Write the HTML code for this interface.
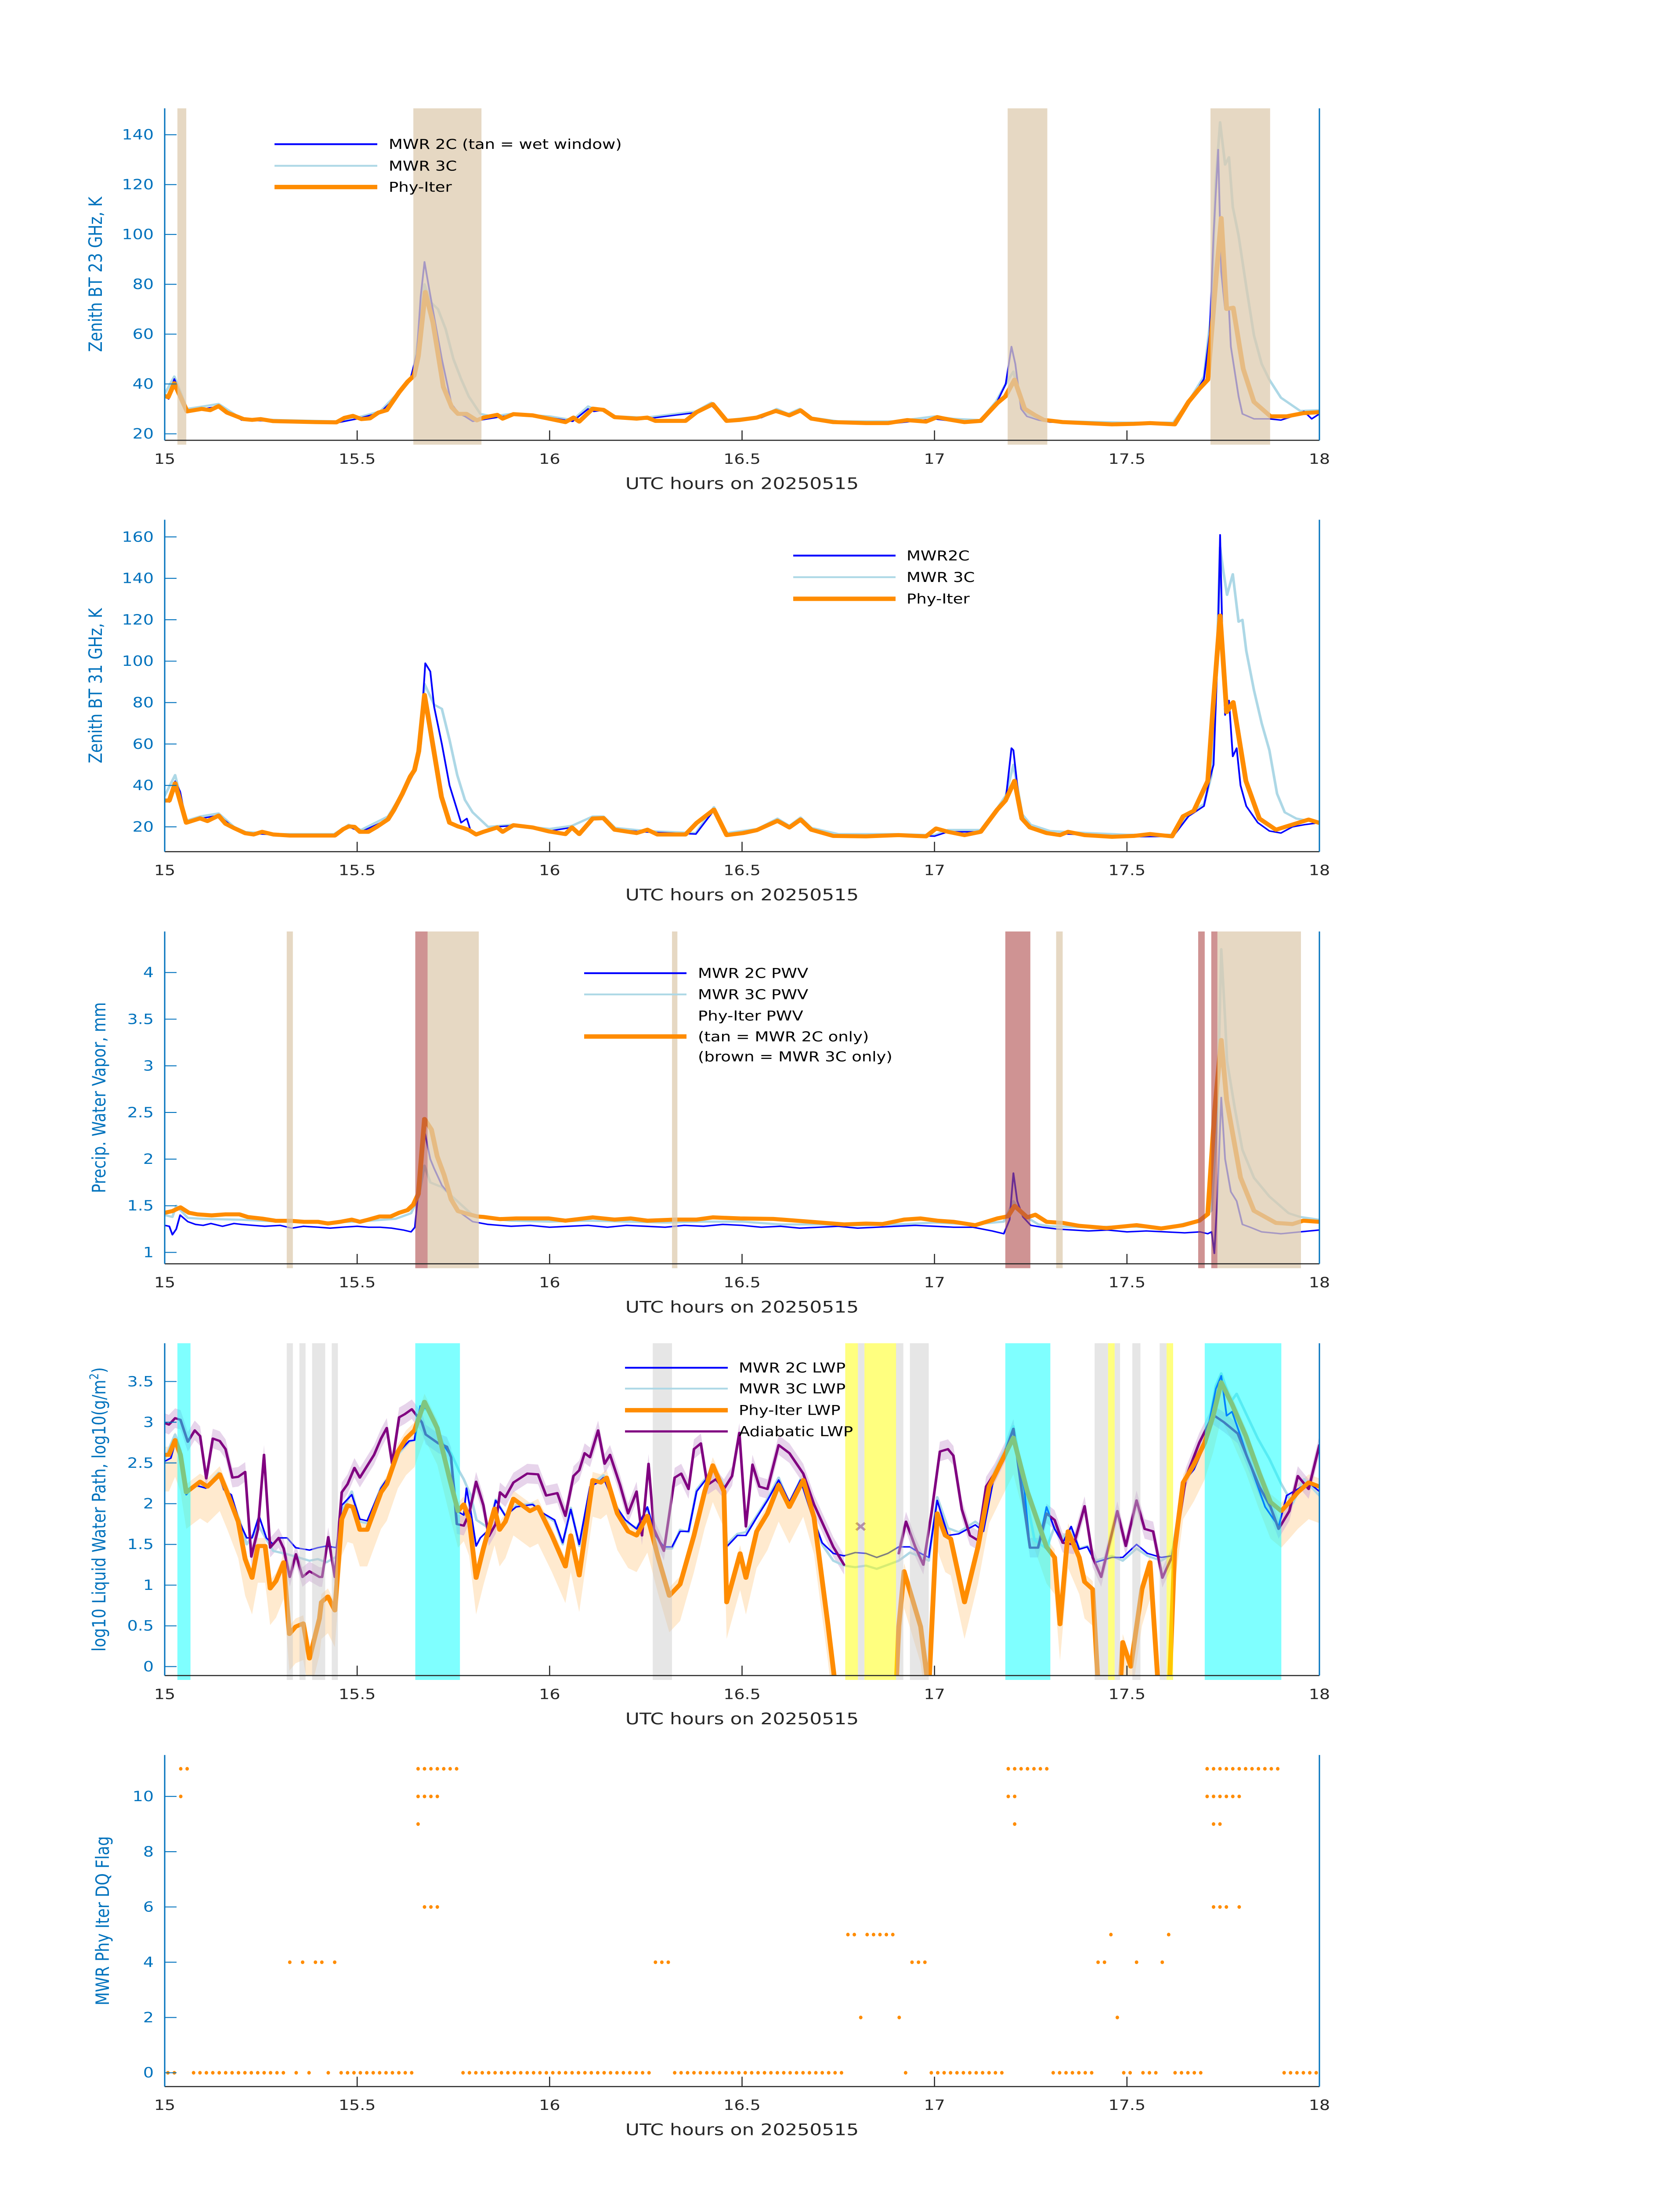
<!DOCTYPE html>
<html>
<head>
<meta charset="utf-8">
<style>
  html, body { margin: 0; padding: 0; background: #ffffff; width: 100%; height: 100%; overflow: hidden; }
  svg { display: block; position: absolute; left: 0; top: 0; width: 100%; height: 100%; }
  text { font-family: "DejaVu Sans", "Liberation Sans", sans-serif; }
</style>
</head>
<body>
<svg id="fig" xmlns="http://www.w3.org/2000/svg" viewBox="0 0 3825 6000" preserveAspectRatio="none">
  <rect x="0" y="0" width="3825" height="6000" fill="#ffffff"/>
</svg>
<script>
// ---------------- DATA ----------------
const bt23OrangeT = [15.000,15.009,15.025,15.058,15.096,15.118,15.140,15.162,15.205,15.227,15.249,15.282,15.336,15.391,15.446,15.467,15.489,15.511,15.533,15.555,15.577,15.609,15.631,15.648,15.659,15.677,15.697,15.724,15.746,15.762,15.784,15.811,
15.828,15.864,15.878,15.906,15.956,15.998,16.041,16.062,16.077,16.112,16.140,16.169,16.226,16.254,16.275,16.353,16.382,16.424,16.460,16.495,16.538,16.588,16.623,16.652,16.680,16.737,16.822,16.879,16.929,16.978,17.007,17.035,17.078,17.120,17.163,17.184,17.208,17.234,17.262,17.284,17.333,17.390,17.461,17.518,17.560,17.624,17.660,17.688,17.710,17.731,17.745,17.759,17.776,17.802,17.830,17.873,17.915,17.958,18.000];
const bt23OrangeV = [35.2,34.7,40.3,29.0,30.0,29.5,31.1,28.5,25.9,25.6,25.9,25.1,24.9,24.7,24.6,26.4,27.2,25.9,26.2,28.5,29.5,36.7,40.9,43.4,51.2,76.9,64.6,38.8,30.6,28.0,28.0,25.4,
26.5,27.6,26.1,27.9,27.4,26.1,24.7,26.5,24.9,30.1,29.6,26.7,26.1,26.5,25.2,25.2,28.7,31.9,25.2,25.6,26.5,29.2,27.4,29.4,26.1,24.7,24.3,24.3,25.5,24.9,26.7,25.8,24.7,25.2,32.3,35.0,41.7,30.1,27.4,25.6,24.7,24.3,23.8,24.0,24.3,23.8,32.8,38.1,41.7,81.7,106.6,70.1,70.6,46.1,32.8,27.0,27.0,28.3,28.7];
const bt23BlueT = [15.0,15.01,15.025,15.04,15.058,15.1,15.14,15.2,15.3,15.45,15.5,15.56,15.61,15.64,15.655,15.665,15.675,15.685,15.70,15.72,15.745,15.765,15.78,15.80,15.84,15.9,16.0,16.06,16.1,16.115,16.14,16.17,16.25,16.38,16.42,16.46,16.55,16.59,16.62,16.65,16.68,16.75,16.9,17.0,17.05,17.12,17.16,17.185,17.2,17.21,17.225,17.24,17.27,17.3,17.4,17.5,17.62,17.66,17.70,17.715,17.725,17.737,17.745,17.755,17.765,17.77,17.78,17.79,17.80,17.83,17.87,17.9,17.93,17.96,17.98,18.0];
const bt23BlueV = [35,34,42,36,28.5,30,31,25.5,25,24.5,26,28.5,36,43,52,75,89,80,67,50,32,28,27,25,26,27.5,26.5,25,30,29,29.5,26.5,26,28.5,31.5,25,26.5,29,27,29,26,24.3,24.3,26,25,24.8,32,40,55,48,30,27,25.5,24.7,24.3,24,23.8,32,42,60,100,134,85,70,70,55,45,35,28,26,26,25.5,27,29,26,28];
const bt23LightT = [15.0,15.025,15.058,15.1,15.14,15.2,15.3,15.45,15.5,15.56,15.61,15.645,15.66,15.675,15.69,15.71,15.73,15.75,15.77,15.79,15.82,15.85,15.9,16.0,16.06,16.1,16.115,16.14,16.17,16.25,16.38,16.42,16.46,16.55,16.59,16.62,16.65,16.68,16.75,16.9,17.0,17.05,17.12,17.16,17.185,17.205,17.225,17.24,17.27,17.3,17.4,17.5,17.62,17.66,17.70,17.72,17.73,17.742,17.755,17.765,17.775,17.79,17.81,17.83,17.85,17.87,17.9,17.95,18.0];
const bt23LightV = [36,43,30,31,32,26,25.5,25,26.5,29,37,43,60,80,73,70,62,50,42,35,28,27,28,27,25.5,31,30,30,27,26.5,29,32.5,25.5,27,30,28,30,26.5,25,25,27,26,25.5,33,40,45,32,28,26,25.2,24.8,24.5,24.5,33,43,70,120,145,128,131,111,99.5,79,59.5,48,41.7,34.5,29.2,29.5];
const p1TanWindows = [[15.033,15.056],[15.646,15.823],[17.19,17.293],[17.717,17.872]];

const bt31OrangeT = [15.000,15.012,15.027,15.056,15.092,15.111,15.140,15.158,15.180,15.209,15.231,15.253,15.282,15.325,15.384,15.442,15.464,15.478,15.493,15.507,15.529,15.551,15.580,15.595,15.617,15.638,15.649,15.660,15.675,15.689,15.719,15.740,15.762,15.777,15.791,15.809,
15.828,15.864,15.878,15.906,15.956,15.998,16.041,16.058,16.077,16.112,16.140,16.169,16.226,16.254,16.280,16.353,16.382,16.427,16.460,16.503,16.538,16.592,16.623,16.652,16.680,16.737,16.822,16.907,16.950,16.978,17.004,17.035,17.078,17.120,17.163,17.184,17.208,17.227,17.248,17.291,17.326,17.347,17.390,17.461,17.518,17.560,17.617,17.646,17.674,17.710,17.724,17.742,17.759,17.776,17.809,17.844,17.887,17.944,17.972,18.000];
const bt31OrangeV = [32.7,32.7,41.0,22.0,24.1,22.8,25.4,21.5,19.4,16.9,16.3,17.6,16.3,15.8,15.8,15.8,18.9,20.2,20.0,17.6,17.6,20.0,23.6,28.0,35.8,44.3,47.4,56.5,83.7,68.2,34.5,22.0,20.2,19.4,18.4,16.3,
17.6,19.7,17.6,20.8,19.7,17.8,16.5,19.7,16.5,24.0,24.2,18.6,17.0,18.6,16.3,16.3,21.9,28.3,16.0,17.0,18.4,22.9,19.7,23.5,18.6,15.6,15.4,16.0,15.6,15.4,19.2,17.6,16.0,17.6,28.3,32.6,42.2,24.0,19.7,17.0,16.0,17.6,16.0,15.2,15.6,16.5,15.4,25.1,27.8,42.2,78.6,122.0,75.4,80.2,42.2,24.0,18.6,21.9,23.5,21.9];
const bt31BlueT = [15.0,15.012,15.027,15.04,15.056,15.092,15.14,15.18,15.21,15.3,15.44,15.478,15.51,15.58,15.62,15.65,15.665,15.677,15.69,15.70,15.72,15.74,15.77,15.785,15.795,15.81,15.86,15.9,16.0,16.058,16.077,16.112,16.14,16.17,16.25,16.38,16.427,16.46,16.54,16.592,16.623,16.652,16.68,16.75,16.9,17.0,17.035,17.12,17.163,17.185,17.2,17.205,17.215,17.228,17.25,17.3,17.4,17.5,17.62,17.66,17.70,17.715,17.725,17.735,17.742,17.75,17.755,17.765,17.775,17.785,17.795,17.81,17.84,17.87,17.9,17.93,17.96,18.0];
const bt31BlueV = [33,32,42,37,22,24,25.5,19.5,17,16,16,20,17.6,23.6,36,47,65,99,95,78,60,40,22,24,18,16.5,20,20.5,18,19.7,16.5,24,24,18.6,17.5,16.5,28,16,18.4,23,19.7,23.5,18.6,15.5,16,15.5,17.6,17.6,28,33,58,57,40,24,19.7,17,16,15.2,15.4,25.1,30,43,50,100,161,95,74,81,54,58,40,30,22,18,17,20,21,22];
const bt31LightT = [15.0,15.027,15.056,15.092,15.14,15.18,15.21,15.3,15.44,15.478,15.51,15.58,15.62,15.65,15.665,15.675,15.70,15.72,15.74,15.76,15.78,15.80,15.84,15.9,16.0,16.058,16.112,16.14,16.17,16.25,16.38,16.427,16.46,16.54,16.592,16.623,16.652,16.68,16.75,16.9,17.0,17.035,17.12,17.163,17.185,17.205,17.228,17.25,17.3,17.4,17.5,17.62,17.66,17.70,17.72,17.735,17.742,17.75,17.76,17.775,17.79,17.80,17.81,17.83,17.85,17.87,17.89,17.91,17.94,17.97,18.0];
const bt31LightV = [35,45,23,25,26.5,20,17.5,16.5,16.5,21,18.5,25,37,47,60,89,79,77,62,45,33,27,20,21,19,20.5,25,25,19.5,18,17,29.5,17,19,24,20.5,24.5,19.5,16.5,16.5,16,18.5,18.5,29,35,50,26,21,18,17,16.2,16.2,26,31,45,110,155,144,132,142,119,120,105,86,70,57,36,27,24,23,22];

const pwvOrangeT = [15.000,15.020,15.041,15.063,15.085,15.122,15.158,15.194,15.216,15.253,15.289,15.325,15.362,15.398,15.424,15.456,15.486,15.507,15.529,15.558,15.587,15.609,15.631,15.646,15.659,15.675,15.693,15.708,15.726,15.744,15.762,15.791,15.813,
15.828,15.871,15.913,15.998,16.041,16.112,16.169,16.211,16.254,16.325,16.382,16.424,16.495,16.581,16.680,16.765,16.822,16.865,16.921,16.964,17.007,17.049,17.106,17.163,17.191,17.208,17.241,17.262,17.291,17.333,17.376,17.447,17.525,17.589,17.646,17.688,17.710,17.728,17.745,17.759,17.795,17.830,17.887,17.930,17.958,18.000];
const pwvOrangeV = [1.425,1.443,1.483,1.425,1.408,1.397,1.408,1.408,1.379,1.362,1.339,1.339,1.328,1.328,1.310,1.328,1.351,1.328,1.351,1.385,1.385,1.425,1.454,1.512,1.627,2.43,2.317,2.03,1.828,1.569,1.443,1.408,1.385,
1.380,1.357,1.364,1.364,1.340,1.376,1.352,1.364,1.340,1.352,1.352,1.376,1.364,1.359,1.328,1.300,1.309,1.304,1.352,1.364,1.340,1.328,1.292,1.364,1.387,1.499,1.376,1.404,1.328,1.316,1.285,1.261,1.292,1.257,1.292,1.340,1.411,2.517,3.277,2.635,1.803,1.447,1.316,1.304,1.340,1.328];
const pwvBlueT = [15.0,15.012,15.02,15.03,15.04,15.06,15.08,15.1,15.12,15.15,15.18,15.2,15.23,15.26,15.3,15.33,15.36,15.4,15.43,15.46,15.5,15.53,15.56,15.59,15.62,15.64,15.65,15.66,15.675,15.69,15.70,15.72,15.74,15.76,15.8,15.84,15.9,15.95,16.0,16.05,16.1,16.15,16.2,16.25,16.3,16.35,16.4,16.45,16.5,16.55,16.6,16.65,16.7,16.75,16.8,16.85,16.9,16.95,17.0,17.05,17.1,17.15,17.18,17.195,17.205,17.215,17.23,17.25,17.28,17.32,17.36,17.4,17.45,17.5,17.55,17.6,17.65,17.69,17.71,17.72,17.727,17.735,17.745,17.755,17.77,17.785,17.8,17.82,17.85,17.9,17.95,18.0];
const pwvBlueV = [1.29,1.28,1.19,1.25,1.40,1.33,1.30,1.29,1.31,1.28,1.31,1.30,1.29,1.28,1.29,1.26,1.28,1.27,1.26,1.27,1.28,1.27,1.27,1.26,1.24,1.22,1.27,1.70,2.30,2.00,1.90,1.72,1.62,1.45,1.33,1.30,1.28,1.29,1.27,1.28,1.29,1.27,1.29,1.28,1.27,1.29,1.28,1.30,1.29,1.27,1.28,1.26,1.27,1.28,1.26,1.27,1.28,1.29,1.28,1.27,1.27,1.23,1.20,1.35,1.85,1.55,1.38,1.29,1.27,1.25,1.24,1.23,1.24,1.22,1.23,1.22,1.21,1.22,1.20,1.22,0.99,1.60,2.66,2.00,1.65,1.55,1.30,1.27,1.22,1.20,1.22,1.24];
const pwvLightT = [15.0,15.02,15.03,15.06,15.1,15.2,15.3,15.4,15.5,15.6,15.64,15.66,15.675,15.69,15.72,15.76,15.8,15.85,15.9,16.0,16.1,16.2,16.3,16.4,16.5,16.6,16.7,16.8,16.9,17.0,17.1,17.18,17.205,17.23,17.27,17.3,17.4,17.5,17.6,17.69,17.72,17.735,17.745,17.755,17.76,17.78,17.80,17.83,17.87,17.92,17.95,18.0];
const pwvLightV = [1.40,1.38,1.50,1.37,1.36,1.35,1.33,1.32,1.33,1.36,1.42,1.60,1.93,1.75,1.70,1.55,1.40,1.36,1.34,1.33,1.34,1.33,1.32,1.33,1.33,1.30,1.30,1.29,1.30,1.32,1.30,1.33,1.55,1.40,1.30,1.28,1.27,1.28,1.26,1.35,1.45,2.5,4.25,3.5,3.05,2.55,2.1,1.8,1.6,1.42,1.38,1.35];
const p3TanWindows = [[15.317,15.333],[15.683,15.816],[16.318,16.332],[17.316,17.333],[17.735,17.952]];
const p3BrownWindows = [[15.651,15.683],[17.184,17.249],[17.685,17.702],[17.719,17.735]];

const lwpOrangeT = [15.000,15.011,15.027,15.041,15.056,15.067,15.092,15.111,15.143,15.162,15.191,15.209,15.227,15.242,15.261,15.274,15.289,15.309,15.324,15.340,15.360,15.376,15.402,15.407,15.424,15.442,15.460,15.475,15.489,15.507,15.526,15.562,15.577,15.606,15.627,15.649,15.675,15.708,15.740,15.762,15.777,15.791,15.809,15.828,15.857,15.870,15.885,
15.906,15.949,15.970,16.006,16.041,16.055,16.077,16.112,16.133,16.148,16.176,16.204,16.226,16.254,16.282,16.311,16.339,16.375,16.403,16.424,16.453,16.460,16.495,16.510,16.538,16.566,16.595,16.623,16.659,16.687,16.723,16.744,16.900,16.907,16.921,16.964,16.985,17.007,17.028,17.042,17.078,17.113,17.142,17.170,17.205,17.241,17.291,17.312,17.326,17.347,17.376,17.390,17.411,17.426,17.482,17.489,17.510,17.539,17.560,17.582,17.610,17.624,17.646,17.674,17.702,17.724,17.745,17.773,17.809,17.844,17.873,17.901,17.922,17.944,17.972,18.000];
const lwpOrangeV = [2.60,2.60,2.78,2.60,2.14,2.18,2.27,2.21,2.36,2.14,1.78,1.32,1.09,1.48,1.48,0.96,1.05,1.28,0.40,0.49,0.53,0.10,0.59,0.79,0.86,0.69,1.81,1.98,1.96,1.68,1.68,2.14,2.24,2.64,2.80,2.90,3.25,2.93,2.31,1.91,1.99,1.81,1.09,1.45,1.94,1.68,1.78,
2.06,1.91,1.96,1.61,1.23,1.61,1.12,2.29,2.26,2.32,1.88,1.66,1.61,1.85,1.34,0.87,1.01,1.61,2.15,2.47,2.15,0.79,1.39,1.09,1.66,1.88,2.23,1.96,2.29,1.83,0.52,-0.3,-0.3,0.49,1.17,0.49,-0.3,1.88,1.61,1.57,0.79,1.47,2.21,2.48,2.81,2.15,1.47,1.34,0.52,1.66,1.34,1.04,0.95,-0.3,-0.3,0.30,0.0,0.95,1.28,-0.3,-0.3,1.44,2.26,2.48,2.75,3.08,3.49,3.22,2.83,2.37,2.02,1.91,2.02,2.14,2.26,2.21];
const lwpAdiabT = [15.000,15.011,15.027,15.041,15.060,15.078,15.092,15.108,15.125,15.143,15.158,15.176,15.191,15.209,15.225,15.242,15.258,15.274,15.296,15.309,15.325,15.341,15.358,15.376,15.402,15.409,15.425,15.442,15.460,15.475,15.493,15.507,15.544,15.562,15.577,15.591,15.609,15.624,15.642,15.668,15.678,15.711,15.733,15.744,15.759,15.777,15.791,15.809,15.828,15.842,15.860,15.871,15.885,
15.906,15.942,15.970,15.991,16.020,16.041,16.062,16.077,16.091,16.105,16.126,16.143,16.157,16.183,16.204,16.226,16.240,16.257,16.271,16.297,16.325,16.342,16.361,16.375,16.393,16.410,16.432,16.453,16.474,16.493,16.510,16.527,16.545,16.566,16.595,16.623,16.659,16.687,16.737,16.765,16.80,
16.907,16.926,16.950,16.971,16.992,17.014,17.035,17.049,17.071,17.092,17.113,17.134,17.156,17.184,17.205,17.227,17.248,17.269,17.291,17.312,17.333,17.362,17.390,17.411,17.433,17.475,17.497,17.525,17.546,17.568,17.592,17.624,17.653,17.688,17.724,17.752,17.788,17.816,17.844,17.873,17.894,17.922,17.944,17.972,18.000];
const lwpAdiabV = [2.99,2.97,3.05,3.03,2.76,2.90,2.83,2.31,2.80,2.77,2.67,2.32,2.33,2.39,1.35,1.68,2.60,1.46,1.58,1.45,1.10,1.38,1.10,1.17,1.10,1.10,1.59,1.10,2.14,2.24,2.44,2.32,2.60,2.80,2.93,2.49,3.06,3.10,3.16,3.00,2.85,2.74,2.70,2.57,1.75,1.73,1.88,2.27,1.98,1.60,1.75,2.14,2.08,
2.26,2.37,2.36,2.10,2.13,1.85,2.34,2.41,2.62,2.57,2.90,2.49,2.60,2.23,1.88,2.15,1.61,2.49,1.69,1.42,2.32,2.37,2.18,2.67,2.74,2.23,2.30,2.18,2.34,2.87,1.72,2.48,2.21,2.18,2.72,2.62,2.37,1.99,1.47,1.25,null,
1.39,1.78,1.47,1.25,1.88,2.64,2.67,2.59,1.93,1.61,1.55,2.21,2.37,2.64,2.92,2.15,1.46,1.46,1.88,1.80,1.52,1.50,1.97,1.34,1.10,1.91,1.48,2.04,1.69,1.66,1.09,1.42,2.32,2.75,3.09,3.00,2.86,2.53,2.21,1.96,1.69,1.91,2.34,2.18,2.72];
const lwpBlueT = [15.000,15.016,15.027,15.041,15.056,15.078,15.107,15.140,15.154,15.173,15.194,15.213,15.227,15.245,15.264,15.282,15.296,15.318,15.340,15.376,15.398,15.420,15.446,15.460,15.486,15.507,15.526,15.562,15.587,15.609,15.635,15.649,15.664,15.682,15.704,15.722,15.744,15.759,15.777,15.784,15.795,15.809,15.820,15.842,15.860,15.885,
15.913,15.956,15.984,16.013,16.034,16.055,16.077,16.105,16.126,16.140,16.169,16.197,16.226,16.254,16.275,16.297,16.318,16.339,16.361,16.382,16.410,16.424,16.453,16.460,16.488,16.510,16.538,16.566,16.595,16.623,16.652,16.680,16.708,16.737,16.765,16.794,16.822,16.850,16.879,16.907,16.936,16.964,16.985,17.007,17.035,17.063,17.106,17.127,17.156,17.184,17.205,17.234,17.248,17.269,17.291,17.312,17.333,17.355,17.376,17.397,17.418,17.461,17.489,17.525,17.553,17.589,17.617,17.646,17.674,17.702,17.731,17.745,17.759,17.773,17.795,17.816,17.859,17.894,17.915,17.944,17.972,18.000];
const lwpBlueV = [2.52,2.56,2.75,2.60,2.11,2.23,2.19,2.36,2.17,2.11,1.78,1.58,1.58,1.85,1.58,1.50,1.58,1.58,1.46,1.43,1.46,1.48,1.46,1.98,2.11,1.81,1.79,2.19,2.37,2.64,2.77,2.78,3.20,3.16,3.00,2.74,2.58,1.91,1.86,2.19,1.91,1.48,1.58,1.68,2.04,1.85,
1.96,1.99,1.88,1.80,1.52,1.93,1.50,2.21,2.26,2.32,1.99,1.80,1.69,1.96,1.61,1.47,1.47,1.66,1.66,2.15,2.32,2.42,2.21,1.47,1.61,1.61,1.83,2.04,2.29,2.02,2.29,1.88,1.52,1.39,1.36,1.40,1.39,1.34,1.39,1.47,1.47,1.39,1.34,2.04,1.61,1.63,1.74,1.66,2.37,2.64,2.92,2.15,1.46,1.46,1.96,1.69,1.52,1.72,1.44,1.47,1.28,1.34,1.34,1.50,1.39,1.34,1.36,2.26,2.42,2.72,3.41,3.57,3.08,3.13,2.83,2.53,1.96,1.72,2.10,2.18,2.26,2.15];
const lwpLightT = [15.0,15.027,15.041,15.056,15.078,15.107,15.14,15.154,15.173,15.194,15.213,15.245,15.282,15.318,15.34,15.376,15.398,15.42,15.446,15.46,15.486,15.507,15.526,15.562,15.587,15.609,15.635,15.649,15.664,15.682,15.704,15.722,15.744,15.765,15.777,15.795,15.81,15.842,15.86,15.885,
15.913,15.956,15.984,16.013,16.034,16.055,16.077,16.105,16.126,16.14,16.169,16.197,16.226,16.254,16.275,16.297,16.318,16.339,16.361,16.382,16.41,16.424,16.453,16.46,16.488,16.51,16.538,16.566,16.595,16.623,16.652,16.68,16.708,16.737,16.765,16.794,16.822,16.85,16.879,16.907,16.936,16.964,16.985,17.007,17.035,17.063,17.106,17.127,17.156,17.184,17.205,17.234,17.26,17.291,17.312,17.333,17.355,17.376,17.397,17.418,17.461,17.489,17.525,17.553,17.589,17.617,17.646,17.674,17.702,17.731,17.745,17.77,17.785,17.81,17.84,17.87,17.9,17.93,17.96,18.0];
const lwpLightV = [2.55,2.85,2.65,2.12,2.22,2.2,2.38,2.2,2.05,1.8,1.5,1.72,1.42,1.38,1.35,1.3,1.32,1.28,1.35,1.9,2.15,1.78,1.76,2.2,2.35,2.62,2.76,2.78,3.15,3.16,2.98,2.75,2.62,2.4,2.3,2.1,1.8,1.7,2.05,1.85,
1.98,2.0,1.87,1.78,1.5,1.95,1.48,2.18,2.3,2.35,2.0,1.78,1.7,1.95,1.6,1.45,1.45,1.68,1.65,2.17,2.34,2.45,2.23,1.5,1.63,1.65,1.85,2.06,2.32,2.0,2.3,1.9,1.5,1.3,1.24,1.22,1.24,1.2,1.25,1.3,1.4,1.35,1.3,2.08,1.7,1.65,1.78,1.7,2.4,2.68,2.95,2.2,1.55,1.45,1.72,1.58,1.7,1.45,1.48,1.3,1.36,1.3,1.45,1.36,1.3,1.38,2.25,2.45,2.72,3.45,3.6,3.25,3.35,3.1,2.8,2.55,2.25,2.0,2.3,2.1];
const lwpMarkerT = [16.808];
const lwpMarkerV = [1.72];
const p4CyanWindows = [[15.033,15.067],[15.651,15.767],[17.184,17.301],[17.702,17.901]];
const p4GrayWindows = [[15.317,15.333],[15.350,15.366],[15.383,15.417],[15.434,15.450],[16.268,16.318],[16.801,16.818],[16.900,16.919],[16.936,16.985],[17.416,17.451],[17.468,17.482],[17.514,17.535],[17.585,17.603]];
const p4YellowWindows = [[16.768,16.801],[16.818,16.900],[17.451,17.468],[17.603,17.620]];

const dqMin0 = [0,1,4,5,6,7,8,9,10,11,12,13,14,15,16,17,18,20,22,25,27,28,29,30,31,32,33,34,35,36,37,38,46,47,48,49,50,51,52,53,54,55,56,57,58,59,60,61,62,63,64,65,66,67,68,69,70,71,72,73,74,75,79,80,81,82,83,84,85,86,87,88,89,90,91,92,93,94,95,96,97,98,99,100,101,102,103,104,105,115,119,120,121,122,123,124,125,126,127,128,129,130,138,139,140,141,142,143,144,149,150,152,153,154,157,158,159,160,161,174,175,176,177,178,179];
const dqMin2 = [108,114,148];
const dqMin4 = [19,21,23,24,26,76,77,78,116,117,118,145,146,151,155];
const dqMin5 = [106,107,109,110,111,112,113,147,156];
const dqMin6 = [40,41,42,163,164,165,167];
const dqMin9 = [39,132,163,164];
const dqMin10 = [2,39,40,41,42,131,132,162,163,164,165,166,167];
const dqMin11 = [2,3,39,40,41,42,43,44,45,131,132,133,134,135,136,137,162,163,164,165,166,167,168,169,170,171,172,173];

const xTickVals = [15,15.5,16,16.5,17,17.5,18];
const xTickLabels = ["15","15.5","16","16.5","17","17.5","18"];
const p1Ticks = [20,40,60,80,100,120,140];
const p2Ticks = [20,40,60,80,100,120,140,160];
const p3Ticks = [1,1.5,2,2.5,3,3.5,4];
const p3TickLabels = ["1","1.5","2","2.5","3","3.5","4"];
const p4Ticks = [0,0.5,1,1.5,2,2.5,3,3.5];
const p4TickLabels = ["0","0.5","1","1.5","2","2.5","3","3.5"];
const p5Ticks = [0,2,4,6,8,10];

// ---------------- DRAWING ----------------
const NS = "http://www.w3.org/2000/svg";
const svg = document.getElementById('fig');
const X0 = 375, X1 = 3004;
const panels = [
  {top:296,  bot:1203, ymin:17.4,  ymax:150.6},
  {top:1420, bot:2327, ymin:8.0,   ymax:168.3},
  {top:2545, bot:3453, ymin:0.878, ymax:4.44},
  {top:3670, bot:4578, ymin:-0.11, ymax:3.97},
  {top:4795, bot:5701, ymin:-0.5,  ymax:11.5}
];
function xs(t){ return X0 + (t-15)/3*(X1-X0); }
function ys(p,v){ return p.bot - (v-p.ymin)/(p.ymax-p.ymin)*(p.bot-p.top); }
function mk(tag, attrs, parent){
  const e = document.createElementNS(NS, tag);
  for (const k in attrs) e.setAttribute(k, attrs[k]);
  (parent||svg).appendChild(e);
  return e;
}
const defs = mk('defs', {});
panels.forEach((p,i)=>{
  const cp = mk('clipPath', {id:'clip'+i}, defs);
  mk('rect', {x:X0, y:p.top, width:X1-X0, height:p.bot-p.top}, cp);
});
function linePath(p, T, V){
  let d = ''; let pen = false;
  const n = Math.min(T.length, V.length);
  for (let i=0;i<n;i++){
    if (V[i]===null || V[i]===undefined){ pen=false; continue; }
    d += (pen?'L':'M') + xs(T[i]).toFixed(1) + ' ' + ys(p,V[i]).toFixed(1) + ' ';
    pen = true;
  }
  return d;
}
function drawLine(pi, T, V, color, width, name, opacity){
  const p = panels[pi];
  const el = mk('path', {d:linePath(p,T,V), fill:'none', stroke:color, 'stroke-width':width, 'stroke-linejoin':'round', 'stroke-linecap':'round', 'clip-path':'url(#clip'+pi+')', opacity:(opacity||1)});
  
  
  return el;
}
function drawBand(pi, T, V, dUp, dLo, color, opacity, name){
  const p = panels[pi];
  const n = Math.min(T.length, V.length);
  let segs = []; let cur = [];
  for (let i=0;i<n;i++){
    if (V[i]===null){ if(cur.length) segs.push(cur); cur=[]; continue; }
    cur.push(i);
  }
  if (cur.length) segs.push(cur);
  segs.forEach(seg=>{
    let d = '';
    seg.forEach((i,k)=>{ d += (k?'L':'M') + xs(T[i]).toFixed(1)+' '+ys(p,V[i]+dUp).toFixed(1)+' '; });
    for (let k=seg.length-1;k>=0;k--){ const i=seg[k]; d += 'L'+xs(T[i]).toFixed(1)+' '+ys(p,V[i]-dLo).toFixed(1)+' '; }
    d += 'Z';
    const el = mk('path', {d:d, fill:color, opacity:opacity, stroke:'none', 'clip-path':'url(#clip'+pi+')'});
    
    
  });
}
function drawWindows(pi, W, color, opacity, name){
  const p = panels[pi];
  W.forEach(w=>{
    const el = mk('rect', {x:xs(w[0]).toFixed(1), y:p.top, width:(xs(w[1])-xs(w[0])).toFixed(1), height:(p.bot-p.top+12), fill:color, opacity:opacity});
    
    
  });
}
function drawAxes(pi, ticks, labels, ylabel){
  const p = panels[pi];
  const g = mk('g', {});
  
  
  ticks.forEach((v,k)=>{
    const y = ys(p,v);
    const tk = mk('line', {x1:X0, x2:X0+27, y1:y, y2:y, stroke:'#0072BD', 'stroke-width':2.5}, g);
    
    
    const tl = mk('text', {x:350, y:y+13, 'text-anchor':'end', 'font-size':38, fill:'#0072BD'}, g);
    tl.textContent = labels ? labels[k] : String(v);
    
    
  });
  xTickVals.forEach((t,k)=>{
    const x = xs(t);
    const tk = mk('line', {x1:x, x2:x, y1:p.bot, y2:p.bot-27, stroke:'#262626', 'stroke-width':2.5}, g);
    
    
    const tl = mk('text', {x:x, y:p.bot+64, 'text-anchor':'middle', 'font-size':38, fill:'#262626'}, g);
    tl.textContent = xTickLabels[k];
    
    
  });
  const bx = mk('line', {x1:X0, x2:X1, y1:p.bot, y2:p.bot, stroke:'#262626', 'stroke-width':3}, g);
  
  
  const lx = mk('line', {x1:X0, x2:X0, y1:p.top, y2:p.bot, stroke:'#0072BD', 'stroke-width':3}, g);
  
  
  const rx = mk('line', {x1:X1, x2:X1, y1:p.top, y2:p.bot, stroke:'#0072BD', 'stroke-width':3}, g);
  
  
  const xl = mk('text', {x:(X0+X1)/2, y:p.bot+133, 'text-anchor':'middle', 'font-size':44, fill:'#262626'}, g);
  xl.textContent = 'UTC hours on 20250515';
  
  
  const cy = (p.top+p.bot)/2;
  const yl = mk('text', {x:0, y:0, transform:'translate('+ylabel.x+','+cy+') rotate(-90)', 'text-anchor':'middle', 'font-size':42, fill:'#0072BD'}, g);
  
  
  if (ylabel.sup){
    yl.appendChild(document.createTextNode(ylabel.text));
    const ts = mk('tspan', {'baseline-shift':'super', 'font-size':28}, yl);
    ts.textContent = ylabel.sup;
    yl.appendChild(document.createTextNode(ylabel.tail));
  } else {
    yl.textContent = ylabel.text;
  }
}
function legendRow(x1, x2, y, color, width, label, name, tx){
  const g = mk('g', {});
  
  
  if (color) mk('line', {x1:x1, x2:x2, y1:y, y2:y, stroke:color, 'stroke-width':width}, g);
  if (label){
    const t = mk('text', {x:tx, y:y+13, 'font-size':37, fill:'#000000'}, g);
    t.textContent = label;
  }
}

// ---- Panel 1 ----
drawLine(0, bt23LightT, bt23LightV, '#ADD8E6', 6, 'mwr3c-23ghz-line');
drawLine(0, bt23BlueT, bt23BlueV, '#0000FF', 4, 'mwr2c-23ghz-line');
drawLine(0, bt23OrangeT, bt23OrangeV, '#FF8C00', 11, 'phyiter-23ghz-line');
drawWindows(0, p1TanWindows, 'rgb(222,203,175)', 0.75, 'wet-window-shading');
drawAxes(0, p1Ticks, null, {x:232, text:'Zenith BT 23 GHz, K'});
legendRow(625, 859, 394, '#0000FF', 5, 'MWR 2C (tan = wet window)', 'legend-mwr2c', 885);
legendRow(625, 859, 453, '#ADD8E6', 5, 'MWR 3C', 'legend-mwr3c', 885);
legendRow(625, 859, 511, '#FF8C00', 12, 'Phy-Iter', 'legend-phyiter', 885);

// ---- Panel 2 ----
drawLine(1, bt31LightT, bt31LightV, '#ADD8E6', 6, 'mwr3c-31ghz-line');
drawLine(1, bt31BlueT, bt31BlueV, '#0000FF', 4, 'mwr2c-31ghz-line');
drawLine(1, bt31OrangeT, bt31OrangeV, '#FF8C00', 11, 'phyiter-31ghz-line');
drawAxes(1, p2Ticks, null, {x:232, text:'Zenith BT 31 GHz, K'});
legendRow(1806, 2039, 1518, '#0000FF', 5, 'MWR2C', 'legend-mwr2c', 2064);
legendRow(1806, 2039, 1577, '#ADD8E6', 5, 'MWR 3C', 'legend-mwr3c', 2064);
legendRow(1806, 2039, 1636, '#FF8C00', 12, 'Phy-Iter', 'legend-phyiter', 2064);

// ---- Panel 3 ----
drawLine(2, pwvLightT, pwvLightV, '#ADD8E6', 6, 'mwr3c-pwv-line');
drawLine(2, pwvBlueT, pwvBlueV, '#0000FF', 4, 'mwr2c-pwv-line');
drawLine(2, pwvOrangeT, pwvOrangeV, '#FF8C00', 11, 'phyiter-pwv-line');
drawWindows(2, p3TanWindows, 'rgb(222,203,175)', 0.75, 'mwr2c-only-shading');
drawWindows(2, p3BrownWindows, 'rgb(175,75,75)', 0.6, 'mwr3c-only-shading');
drawAxes(2, p3Ticks, p3TickLabels, {x:240, text:'Precip. Water Vapor, mm'});
legendRow(1330, 1563, 2659, '#0000FF', 5, 'MWR 2C PWV', 'legend-mwr2c-pwv', 1589);
legendRow(1330, 1563, 2717, '#ADD8E6', 5, 'MWR 3C PWV', 'legend-mwr3c-pwv', 1589);
legendRow(1330, 1563, 2775, null, 0, 'Phy-Iter PWV', 'legend-phyiter-pwv-title', 1589);
legendRow(1330, 1563, 2832, '#FF8C00', 12, '(tan = MWR 2C only)', 'legend-phyiter-pwv', 1589);
legendRow(1330, 1563, 2887, null, 0, '(brown = MWR 3C only)', 'legend-brown-note', 1589);

// ---- Panel 4 ----
drawBand(3, lwpOrangeT, lwpOrangeV, 0.1, 0.45, '#FFD9A8', 0.55, 'phyiter-lwp-uncertainty');
drawBand(3, lwpAdiabT, lwpAdiabV, 0.12, 0.12, '#C9A0D2', 0.45, 'adiabatic-lwp-uncertainty');
drawLine(3, lwpLightT, lwpLightV, '#ADD8E6', 6, 'mwr3c-lwp-line');
drawLine(3, lwpBlueT, lwpBlueV, '#0000FF', 4, 'mwr2c-lwp-line');
drawLine(3, lwpAdiabT, lwpAdiabV, '#800080', 6, 'adiabatic-lwp-line');
drawLine(3, lwpOrangeT, lwpOrangeV, '#FF8C00', 11, 'phyiter-lwp-line');
lwpMarkerT.forEach((t,i)=>{
  const p = panels[3];
  const x = xs(t), y = ys(p, lwpMarkerV[i]);
  const m = mk('path', {d:'M'+(x-10)+' '+(y-10)+' L'+(x+10)+' '+(y+10)+' M'+(x-10)+' '+(y+10)+' L'+(x+10)+' '+(y-10), stroke:'#A0609A', 'stroke-width':6, fill:'none'});
  
  
});
drawWindows(3, p4GrayWindows, 'rgb(200,200,200)', 0.45, 'gray-flag-shading');
drawWindows(3, p4YellowWindows, '#FFFF00', 0.5, 'yellow-flag-shading');
drawWindows(3, p4CyanWindows, '#00FFFF', 0.5, 'cyan-flag-shading');
drawAxes(3, p4Ticks, p4TickLabels, {x:240, text:'log10 Liquid Water Path, log10(g/m', sup:'2', tail:')'});
legendRow(1423, 1657, 3737, '#0000FF', 5, 'MWR 2C LWP', 'legend-mwr2c-lwp', 1682);
legendRow(1423, 1657, 3794, '#ADD8E6', 5, 'MWR 3C LWP', 'legend-mwr3c-lwp', 1682);
legendRow(1423, 1657, 3853, '#FF8C00', 12, 'Phy-Iter LWP', 'legend-phyiter-lwp', 1682);
legendRow(1423, 1657, 3911, '#800080', 6, 'Adiabatic LWP', 'legend-adiabatic-lwp', 1682);

// ---- Panel 5 ----
const dqGroups = [[dqMin0,0],[dqMin2,2],[dqMin4,4],[dqMin5,5],[dqMin6,6],[dqMin9,9],[dqMin10,10],[dqMin11,11]];
dqGroups.forEach(gp=>{
  const p = panels[4];
  gp[0].forEach(m=>{
    const t = 15 + (m+0.5)/60;
    const c = mk('ellipse', {cx:xs(t).toFixed(1), cy:ys(p,gp[1]).toFixed(1), rx:4, ry:5, fill:'#FF8C00'});
    
    
  });
});
drawAxes(4, p5Ticks, null, {x:248, text:'MWR Phy Iter DQ Flag'});
</script>
</body>
</html>
